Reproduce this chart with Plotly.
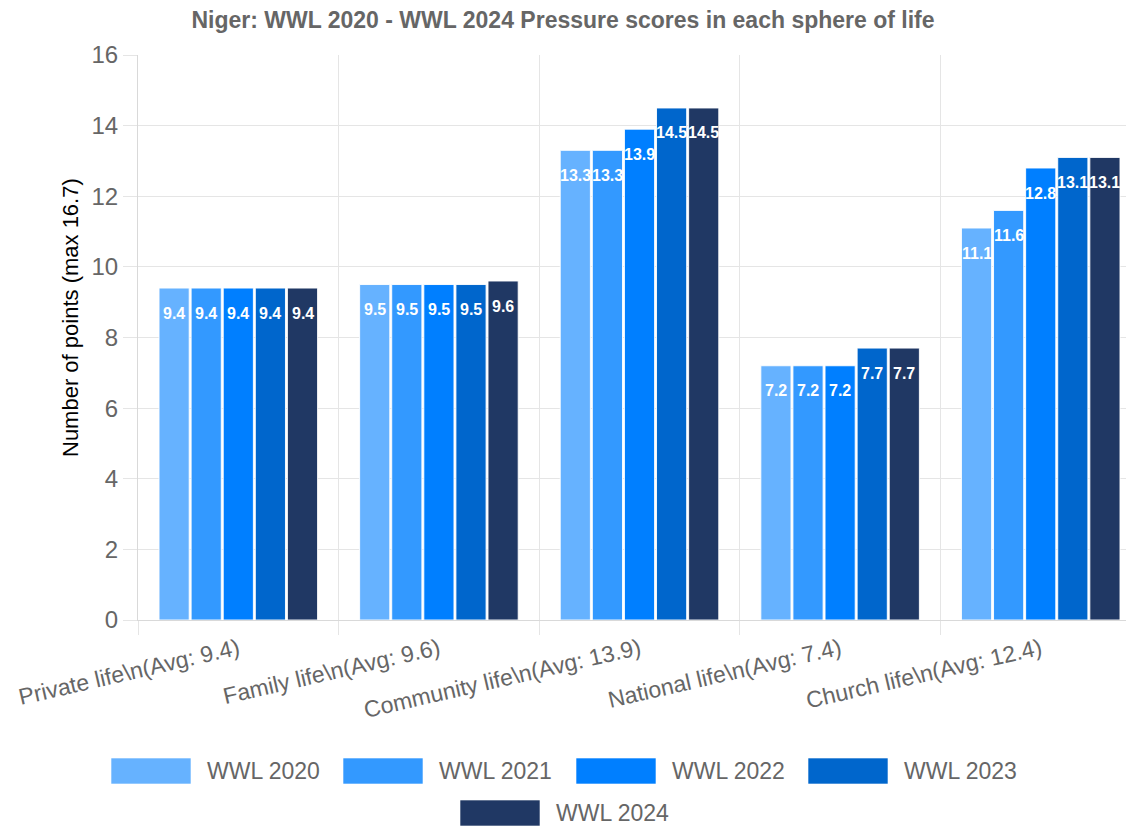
import plotly.graph_objects as go

categories = [
    "Private life\\n(Avg: 9.4)",
    "Family life\\n(Avg: 9.6)",
    "Community life\\n(Avg: 13.9)",
    "National life\\n(Avg: 7.4)",
    "Church life\\n(Avg: 12.4)",
]
series_names = ["WWL 2020", "WWL 2021", "WWL 2022", "WWL 2023", "WWL 2024"]
wwl_2020 = [9.4, 9.5, 13.3, 7.2, 11.1]
wwl_2021 = [9.4, 9.5, 13.3, 7.2, 11.6]
wwl_2022 = [9.4, 9.5, 13.9, 7.2, 12.8]
wwl_2023 = [9.4, 9.5, 14.5, 7.7, 13.1]
wwl_2024 = [9.4, 9.6, 14.5, 7.7, 13.1]
series_values = [wwl_2020, wwl_2021, wwl_2022, wwl_2023, wwl_2024]
colors = ["#66b2ff", "#3399ff", "#007fff", "#0066cc", "#203864"]

OFF = 8  # page body margin
W, H = 1134 - OFF, 827 - OFF
ML, MR, MT, MB = 138 - OFF, 0, 55 - OFF, 827 - 620
PW, PH = W - ML - MR, H - MT - MB
FONT = "Arial, Liberation Sans, sans-serif"
GRAY = "#666666"
BARGAP = 0.2

fig = go.Figure()
annos = []
n = len(series_names)
slot = (1 - BARGAP) / n
for i, (name, vals, col) in enumerate(zip(series_names, series_values, colors)):
    fig.add_trace(go.Bar(
        x=categories, y=vals, name=name,
        marker=dict(color=col, line=dict(color="rgba(255,255,255,0.9)", width=1)),
        showlegend=False,
        hoverinfo="x+y+name",
    ))
    # value labels just inside the top of each bar
    for j, v in enumerate(vals):
        annos.append(dict(xref="x", yref="y", x=j + (i - (n - 1) / 2) * slot, y=v,
                          yshift=-25, text=f"<b>{v}</b>", showarrow=False,
                          xanchor="center", yanchor="middle",
                          font=dict(size=16, color="white", family=FONT)))

# custom legend (large swatches like the original), positions in page pixels
def px_to_paper_x(px):
    return (px - OFF - ML) / PW

def px_to_paper_y(py):
    return (H - MB - (py - OFF)) / PH

legend_pos = [(111, 771), (343, 771), (576, 771), (808, 771), (460, 813)]
shapes = []
for (lx, ly), name, col in zip(legend_pos, series_names, colors):
    shapes.append(dict(type="rect", xref="paper", yref="paper",
                       x0=px_to_paper_x(lx), x1=px_to_paper_x(lx + 80),
                       y0=px_to_paper_y(ly - 13), y1=px_to_paper_y(ly + 13),
                       fillcolor=col, line=dict(color="rgba(255,255,255,0.6)", width=1)))
    annos.append(dict(xref="paper", yref="paper", x=px_to_paper_x(lx + 94),
                      y=px_to_paper_y(ly), text=name, showarrow=False,
                      xanchor="left", yanchor="middle",
                      font=dict(size=23, color=GRAY, family=FONT)))

# y-axis title placed like the original
annos.append(dict(xref="paper", yref="paper", x=px_to_paper_x(70), y=px_to_paper_y(318),
                  text="Number of points (max 16.7)", showarrow=False, textangle=-90,
                  xanchor="center", yanchor="middle",
                  font=dict(size=22, color="black", family=FONT)))

fig.update_layout(
    width=W, height=H,
    margin=dict(l=ML, r=MR, t=MT, b=MB, autoexpand=False),
    paper_bgcolor="white", plot_bgcolor="white",
    barmode="group", bargap=BARGAP, bargroupgap=0.06,
    title=dict(text="<b>Niger: WWL 2020 - WWL 2024 Pressure scores in each sphere of life</b>",
               x=(563 - OFF) / W, xref="container", xanchor="center",
               y=1 - (20 - OFF) / H, yref="container", yanchor="middle",
               font=dict(size=23, color=GRAY, family=FONT)),
    font=dict(family=FONT),
    shapes=shapes, annotations=annos,
)
fig.update_xaxes(
    range=[-0.5, 4.465], tickson="boundaries",
    showgrid=True, gridcolor="#e5e5e5", gridwidth=1,
    ticks="outside", ticklen=14, tickcolor="#e5e5e5",
    showline=True, linecolor="#d9d9d9",
    tickangle=-13, ticklabelstandoff=6,
    tickfont=dict(size=23, color=GRAY, family=FONT),
)
fig.update_yaxes(
    range=[0, 16], dtick=2,
    showgrid=True, gridcolor="#e5e5e5", gridwidth=1,
    ticks="outside", ticklen=14, tickcolor="#e5e5e5",
    showline=True, linecolor="#d9d9d9", zeroline=False,
    tickfont=dict(size=24, color=GRAY, family=FONT),
)

fig.write_html("out.html")
